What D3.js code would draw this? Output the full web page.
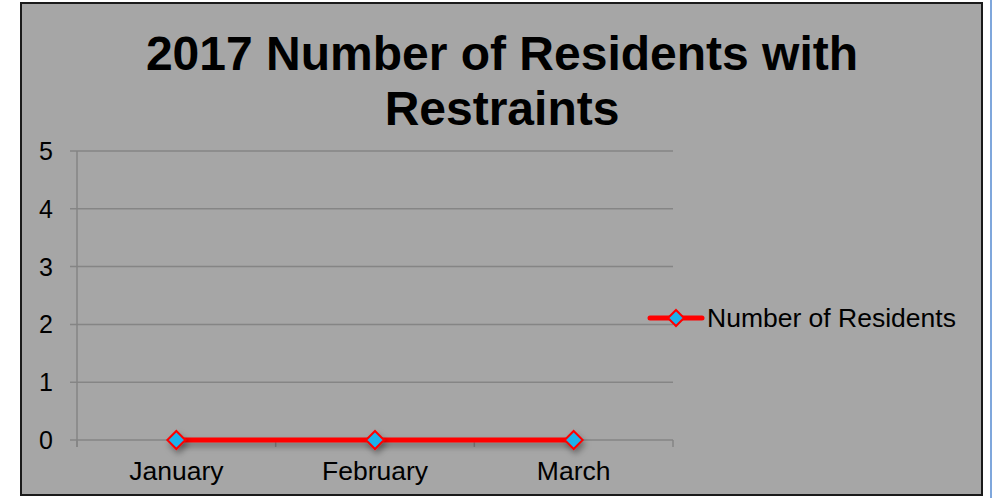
<!DOCTYPE html>
<html><head><meta charset="utf-8">
<script src="https://cdn.jsdelivr.net/npm/d3@7"></script>
<style>html,body{margin:0;padding:0;background:#fff;}svg{display:block;}</style>
</head><body>
<script>
const categories = ["January", "February", "March"];
const values = [0, 0, 0];
const yTicks = [0, 1, 2, 3, 4, 5];
const seriesName = "Number of Residents";
const titleLines = ["2017 Number of Residents with", "Restraints"];

const W = 1002, H = 498;
const svg = d3.select("body").append("svg").attr("width", W).attr("height", H);
const defs = svg.append("defs");
const f = defs.append("filter").attr("id", "sh").attr("filterUnits", "userSpaceOnUse")
  .attr("x", 0).attr("y", 0).attr("width", W).attr("height", H);
f.append("feDropShadow").attr("dx", 2).attr("dy", 4).attr("stdDeviation", 3).attr("flood-color", "#000").attr("flood-opacity", 0.35);

// blue side line
svg.append("line").attr("x1", 991).attr("x2", 991).attr("y1", 0).attr("y2", H)
  .attr("stroke", "#7fa7dc").attr("stroke-width", 2);
// frame
svg.append("rect").attr("x", 21).attr("y", 3).attr("width", 961).attr("height", 492)
  .attr("fill", "#a6a6a6").attr("stroke", "#1a1a1a").attr("stroke-width", 2);

const font = "Liberation Sans, Arial, Helvetica, sans-serif";
svg.append("g").selectAll("text").data(titleLines).join("text")
  .attr("x", 502).attr("y", (d, i) => 70 + i * 55)
  .attr("text-anchor", "middle").attr("font-family", font).attr("font-weight", "bold")
  .attr("font-size", 48).attr("fill", "#000").text(d => d);

const x0 = 77, x1 = 673, yTop = 151, yBot = 440;
const x = d3.scaleBand().domain(categories).range([x0, x1]);
const y = d3.scaleLinear().domain([0, 5]).range([yBot, yTop]);
const axisColor = "#858585";

// gridlines
svg.append("g").selectAll("line").data(yTicks).join("line")
  .attr("x1", x0 - 7).attr("x2", x1).attr("y1", d => y(d)).attr("y2", d => y(d))
  .attr("stroke", axisColor).attr("stroke-width", 1.5);
// y axis line
svg.append("line").attr("x1", x0).attr("x2", x0).attr("y1", yTop).attr("y2", yBot + 7)
  .attr("stroke", axisColor).attr("stroke-width", 1.5);
// x category boundary ticks
const bounds = categories.map(c => x(c)).concat([x1]);
svg.append("g").selectAll("line").data(bounds).join("line")
  .attr("x1", d => d).attr("x2", d => d).attr("y1", yBot).attr("y2", yBot + 7)
  .attr("stroke", axisColor).attr("stroke-width", 1.5);

// y labels
svg.append("g").selectAll("text").data(yTicks).join("text")
  .attr("x", 53).attr("y", d => y(d) + 9).attr("text-anchor", "end")
  .attr("font-family", font).attr("font-size", 25).attr("fill", "#000").text(d => d);
// x labels
svg.append("g").selectAll("text").data(categories).join("text")
  .attr("x", d => x(d) + x.bandwidth() / 2).attr("y", 480).attr("text-anchor", "middle")
  .attr("font-family", font).attr("font-size", 26.5).attr("fill", "#000").text(d => d);

// series line
const line = d3.line().x((d, i) => x(categories[i]) + x.bandwidth() / 2).y(d => y(d));
svg.append("path").datum(values).attr("d", line).attr("fill", "none")
  .attr("stroke", "#ff0000").attr("stroke-width", 5).attr("filter", "url(#sh)");

const diamond = (cx, cy, r) => `M${cx},${cy - r}L${cx + r},${cy}L${cx},${cy + r}L${cx - r},${cy}Z`;
svg.append("g").selectAll("path").data(values).join("path")
  .attr("d", (d, i) => diamond(x(categories[i]) + x.bandwidth() / 2, y(d), 9))
  .attr("fill", "#1ab2ec").attr("stroke", "#ff0000").attr("stroke-width", 2).attr("filter", "url(#sh)");

// legend
const ly = 318;
svg.append("line").attr("x1", 650).attr("x2", 702).attr("y1", ly).attr("y2", ly)
  .attr("stroke", "#ff0000").attr("stroke-width", 5).attr("stroke-linecap", "round");
svg.append("path").attr("d", diamond(676, ly, 8)).attr("fill", "#1ab2ec").attr("stroke", "#ff0000").attr("stroke-width", 2);
svg.append("text").attr("x", 707).attr("y", ly + 9).attr("font-family", font).attr("font-size", 26.5)
  .attr("fill", "#000").text(seriesName);
</script>
</body></html>
